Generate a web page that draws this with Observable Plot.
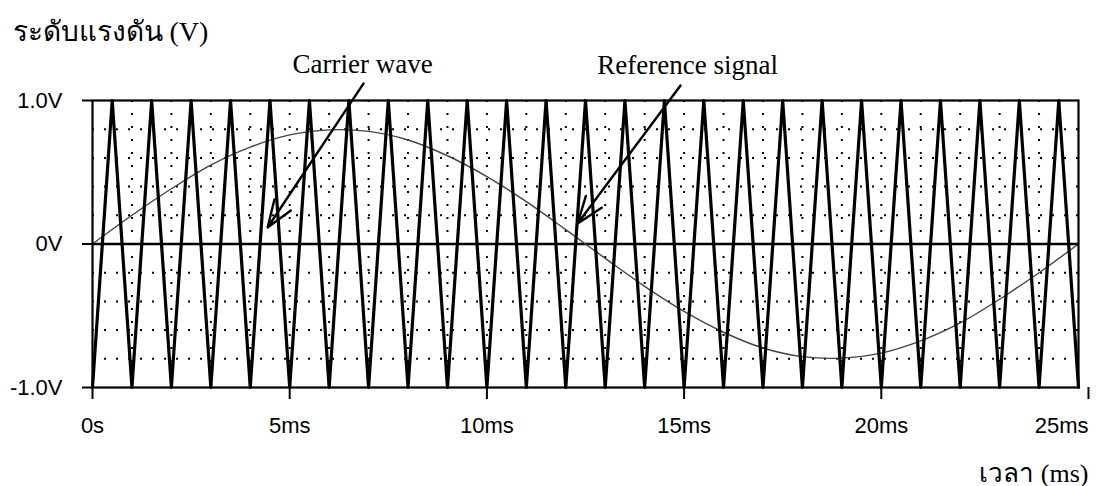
<!DOCTYPE html>
<html><head><meta charset="utf-8">
<script src="https://cdn.jsdelivr.net/npm/d3@7"></script>
<script src="https://cdn.jsdelivr.net/npm/@observablehq/plot@0.6"></script>
<style>body{margin:0;background:#fff}</style>
</head><body><div id="chart"></div>
<script>
// Carrier wave (triangle), time in ms, voltage in V
const carrierTime = [0,0.5,1,1.5,2,2.5,3,3.5,4,4.5,5,5.5,6,6.5,7,7.5,8,8.5,9,9.5,10,10.5,11,11.5,12,12.5,13,13.5,14,14.5,15,15.5,16,16.5,17,17.5,18,18.5,19,19.5,20,20.5,21,21.5,22,22.5,23,23.5,24,24.5,25];
const carrierVolt = [-1,1,-1,1,-1,1,-1,1,-1,1,-1,1,-1,1,-1,1,-1,1,-1,1,-1,1,-1,1,-1,1,-1,1,-1,1,-1,1,-1,1,-1,1,-1,1,-1,1,-1,1,-1,1,-1,1,-1,1,-1,1,-1];
// Reference signal
const refTime = [0,1,2,3,4,5,6,7,8,9,10,11,12,13,14,15,16,17,18,19,20,21,22,23,24,25];
const refVolt = [0,0.20,0.385,0.55,0.675,0.76,0.795,0.785,0.725,0.615,0.47,0.295,0.10,-0.10,-0.295,-0.47,-0.615,-0.725,-0.785,-0.795,-0.76,-0.675,-0.55,-0.385,-0.20,0];
// Grid
const gridTimes = [1,2,3,4,5,6,7,8,9,10,11,12,13,14,15,16,17,18,19,20,21,22,23,24];
const gridLevels = [-0.8,-0.6,-0.4,-0.2,0.2,0.4,0.6,0.8];
// Ticks
const xTickValues = [0,5,10,15,20,25];
const xTickLabels = ["0s","5ms","10ms","15ms","20ms","25ms"];
const yTickValues = [-1,0,1];
const yTickLabels = ["-1.0V","0V","1.0V"];
// Annotations
const annotLabels = ["Carrier wave","Reference signal"];
const annotTextT = [6.85, 15.09];
const annotTextV = [1.195, 1.188];
const arrowFromT = [6.87, 14.91];
const arrowFromV = [1.118, 1.105];
const arrowToT = [4.44, 12.30];
const arrowToV = [0.115, 0.143];
const yTitle = "ระดับแรงดัน (V)";
const xTitle = "เวลา (ms)";

const carrier = carrierTime.map((t, i) => ({t, v: carrierVolt[i]}));
const reference = refTime.map((t, i) => ({t, v: refVolt[i]}));
const annots = annotLabels.map((label, i) => ({label, t: annotTextT[i], v: annotTextV[i], t1: arrowFromT[i], v1: arrowFromV[i], t2: arrowToT[i], v2: arrowToV[i]}));
const xFmt = d => xTickLabels[xTickValues.indexOf(d)];
const yFmt = d => yTickLabels[yTickValues.indexOf(d)];

const serif = "'Liberation Serif', 'Times New Roman', serif";
const sans = "'Liberation Sans', Arial, sans-serif";

const plot = Plot.plot({
  width: 1096, height: 486,
  marginTop: 100, marginBottom: 99, marginLeft: 92, marginRight: 18,
  style: {fontFamily: sans, fontSize: "22px", background: "#fff", color: "#000", overflow: "visible"},
  x: {domain: [0, 25], label: null, axis: null},
  y: {domain: [-1, 1], label: null, axis: null},
  marks: [
    Plot.ruleY(gridLevels, {stroke: "#000", strokeWidth: 2, strokeDasharray: "2,10"}),
    Plot.ruleX(gridTimes, {stroke: "#000", strokeWidth: 2, strokeDasharray: "2,11"}),
    Plot.ruleY([0], {stroke: "#000", strokeWidth: 2.5}),
    Plot.line(reference, {x: "t", y: "v", stroke: "#444", strokeWidth: 1.4, curve: "catmull-rom"}),
    Plot.line(carrier, {x: "t", y: "v", stroke: "#000", strokeWidth: 3.2}),
    Plot.frame({stroke: "#000", strokeWidth: 2.2}),
    Plot.axisX({ticks: xTickValues.slice(0, -1), tickFormat: xFmt, tickSize: 12, tickPadding: 18, strokeWidth: 2, fontSize: 22, fontFamily: sans, label: null}),
    Plot.axisX({ticks: xTickValues.slice(-1), tickFormat: xFmt, tickSize: 12, tickPadding: 18, strokeWidth: 2, fontSize: 22, fontFamily: sans, label: null, textAnchor: "end", dx: 10}),
    Plot.axisY({ticks: yTickValues, tickFormat: yFmt, tickSize: 10, tickPadding: 20, strokeWidth: 2, fontSize: 22, fontFamily: sans, label: null}),
    Plot.arrow(annots, {x1: "t1", y1: "v1", x2: "t2", y2: "v2", stroke: "#000", strokeWidth: 2.4, headLength: 18, headAngle: 40}),
    Plot.text(annots, {x: "t", y: "v", text: "label", fontFamily: serif, fontSize: 27, lineAnchor: "bottom", textAnchor: "middle", fill: "#000"}),
    Plot.text([yTitle], {frameAnchor: "top-left", dx: -80, dy: -60, lineAnchor: "bottom", textAnchor: "start", fontFamily: serif, fontSize: 28, fill: "#000"}),
    Plot.text([xTitle], {frameAnchor: "bottom-right", dx: 10, dy: 94, lineAnchor: "bottom", textAnchor: "end", fontFamily: serif, fontSize: 26, fill: "#000"})
  ]
});
document.getElementById("chart").appendChild(plot);
</script>
</body></html>
